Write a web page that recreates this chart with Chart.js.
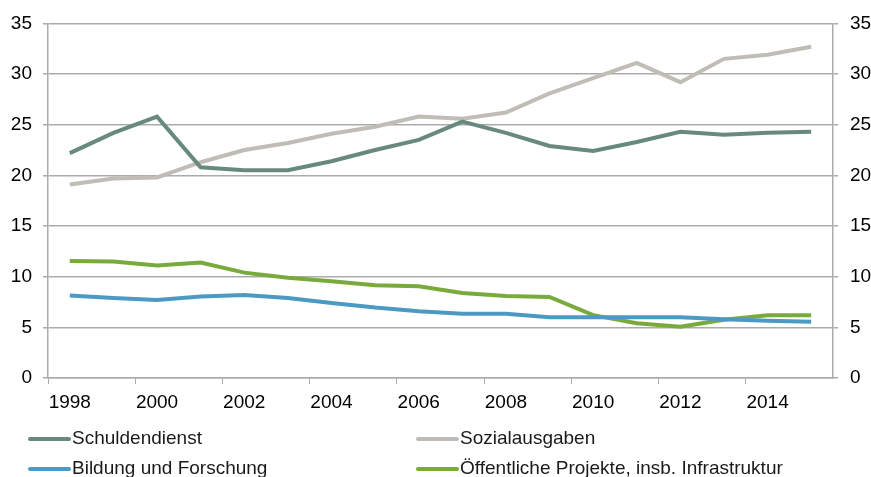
<!DOCTYPE html>
<html>
<head>
<meta charset="utf-8">
<script src="https://cdn.jsdelivr.net/npm/chart.js@4"></script>
<style>
  body { margin: 0; background: #fff; }
  #wrap { width: 871px; height: 477px; position: relative; }
</style>
</head>
<body>
<div id="wrap"><canvas id="debtChart" width="871" height="477"></canvas></div>
<script>
// years on the x axis (only even ones get a label)
var years = ['1998','1999','2000','2001','2002','2003','2004','2005','2006','2007','2008','2009','2010','2011','2012','2013','2014','2015'];

var schuldendienst = [22.2, 24.2, 25.8, 20.8, 20.5, 20.5, 21.4, 22.5, 23.5, 25.3, 24.2, 22.9, 22.4, 23.3, 24.3, 24.0, 24.2, 24.3];
var sozialausgaben = [19.1, 19.7, 19.8, 21.3, 22.5, 23.2, 24.1, 24.8, 25.8, 25.6, 26.2, 28.1, 29.6, 31.1, 29.2, 31.5, 31.9, 32.7];
var bildung = [8.15, 7.9, 7.7, 8.05, 8.2, 7.9, 7.4, 6.95, 6.6, 6.35, 6.35, 6.0, 6.0, 6.0, 6.0, 5.8, 5.65, 5.55];
var infrastruktur = [11.55, 11.5, 11.1, 11.4, 10.4, 9.9, 9.55, 9.15, 9.05, 8.4, 8.1, 8.0, 6.2, 5.4, 5.05, 5.75, 6.2, 6.2];

var yTicks = [0, 5, 10, 15, 20, 25, 30, 35];

var gridGray = '#ABABAB';
var fontFamily = '"Liberation Sans", Arial, sans-serif';

function line(label, data, color) {
    return {
        label: label,
        data: data,
        borderColor: color,
        backgroundColor: color,
        borderWidth: 4,
        pointRadius: 0,
        tension: 0,
        fill: false
    };
}

var datasets = [
    line('Schuldendienst', schuldendienst, '#688A7C'),
    line('Sozialausgaben', sozialausgaben, '#C0BDB6'),
    line('Bildung und Forschung', bildung, '#4B9AC3'),
    line('Öffentliche Projekte, insb. Infrastruktur', infrastruktur, '#78AA3C')
];

// legend in two fixed columns, like the original
var legendPos = [
    { x: 28, y: 439 },
    { x: 416, y: 439 },
    { x: 28, y: 469 },
    { x: 416, y: 469 }
];

var legendPlugin = {
    id: 'twoColLegend',
    afterDraw: function (chart) {
        var ctx = chart.ctx;
        ctx.save();
        chart.data.datasets.forEach(function (ds, i) {
            var p = legendPos[i];
            ctx.strokeStyle = ds.borderColor;
            ctx.lineWidth = 4;
            ctx.lineCap = 'round';
            ctx.beginPath();
            ctx.moveTo(p.x + 2, p.y);
            ctx.lineTo(p.x + 41, p.y);
            ctx.stroke();
            ctx.fillStyle = '#1a1a1a';
            ctx.font = '19px ' + fontFamily;
            ctx.textBaseline = 'middle';
            ctx.textAlign = 'left';
            ctx.fillText(ds.label, p.x + 44, p.y);
        });
        ctx.restore();
    }
};

var ctx = document.getElementById('debtChart').getContext('2d');

new Chart(ctx, {
    type: 'line',
    data: {
        labels: years,
        datasets: datasets
    },
    options: {
        responsive: false,
        animation: false,
        layout: {
            padding: { top: 23, bottom: 59, left: 0, right: 0 }
        },
        plugins: {
            legend: { display: false },
            tooltip: { enabled: false }
        },
        scales: {
            x: {
                type: 'category',
                offset: true,
                grid: {
                    offset: true,
                    drawOnChartArea: false,
                    drawTicks: true,
                    tickLength: 6,
                    color: function (c) {
                        return c.index % 2 === 0 ? gridGray : 'rgba(0,0,0,0)';
                    }
                },
                border: { color: gridGray, width: 1.5 },
                ticks: {
                    autoSkip: false,
                    maxRotation: 0,
                    color: '#000',
                    padding: 7,
                    font: { family: fontFamily, size: 19 },
                    callback: function (v, i) {
                        return i % 2 === 0 ? years[i] : '';
                    }
                },
                afterFit: function (scale) { scale.height = 40; }
            },
            y: {
                position: 'left',
                min: 0,
                max: 35,
                afterBuildTicks: function (scale) {
                    scale.ticks = yTicks.map(function (v) { return { value: v }; });
                },
                grid: {
                    color: gridGray,
                    lineWidth: 1.5,
                    tickLength: 5
                },
                border: { color: gridGray, width: 1.5 },
                ticks: {
                    color: '#000',
                    padding: 11,
                    font: { family: fontFamily, size: 19 }
                },
                afterFit: function (scale) { scale.width = 48; }
            },
            y2: {
                position: 'right',
                min: 0,
                max: 35,
                afterBuildTicks: function (scale) {
                    scale.ticks = yTicks.map(function (v) { return { value: v }; });
                },
                grid: {
                    drawOnChartArea: false,
                    color: gridGray,
                    lineWidth: 1.5,
                    tickLength: 5
                },
                border: { color: gridGray, width: 1.5 },
                ticks: {
                    color: '#000',
                    padding: 12,
                    font: { family: fontFamily, size: 19 }
                },
                afterFit: function (scale) { scale.width = 38; }
            }
        }
    },
    plugins: [legendPlugin]
});
</script>
</body>
</html>
